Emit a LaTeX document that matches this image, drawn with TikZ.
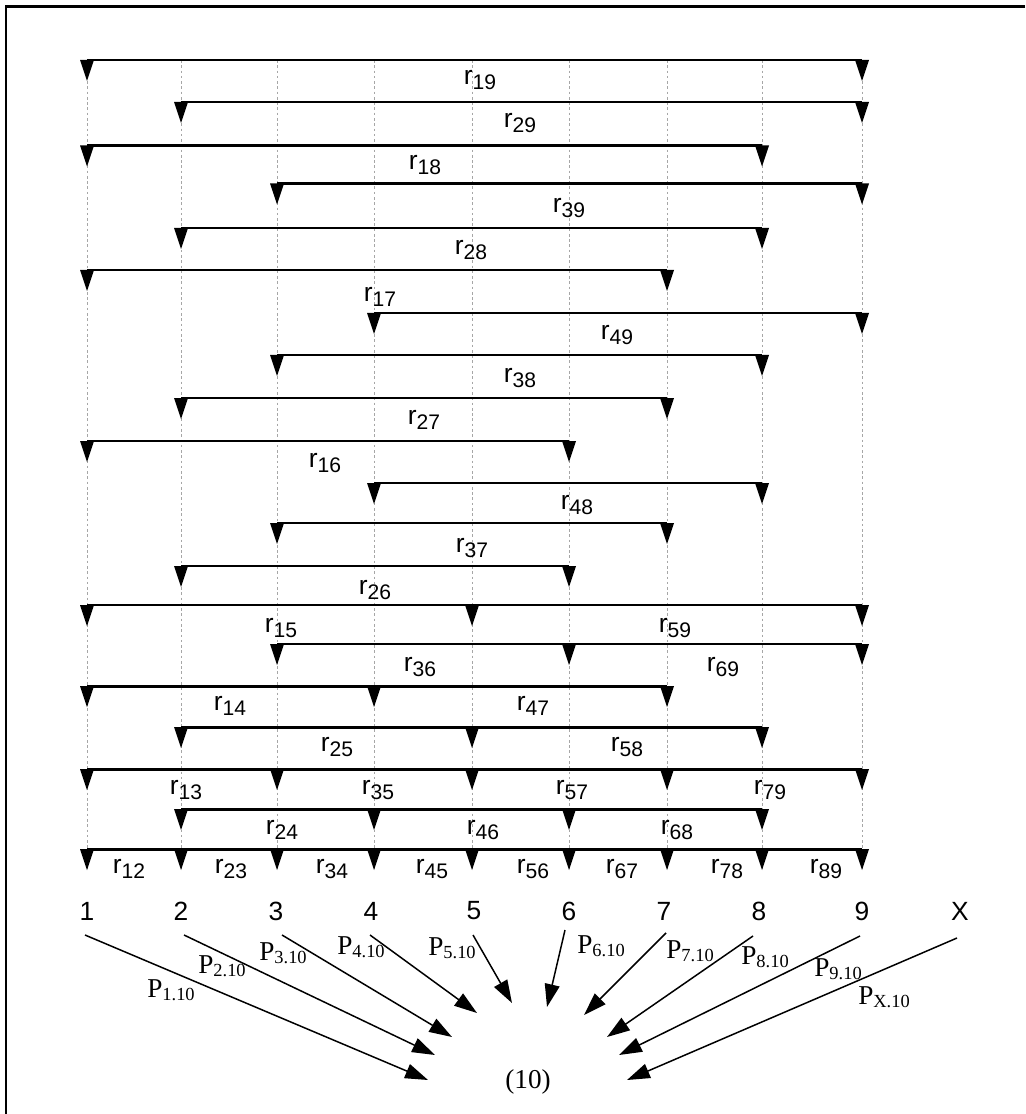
\documentclass[tikz,border=0pt]{standalone}
\usepackage{fontspec}
\setmainfont{Liberation Serif}
\setsansfont{Liberation Sans}
\usetikzlibrary{arrows.meta}

\newcommand{\rsub}[1]{r\raisebox{-2.4pt}{\fontsize{12}{13}\selectfont #1}}
\newcommand{\psub}[1]{P\raisebox{-2pt}{\fontsize{10.5}{11}\selectfont #1}}

\begin{document}
\begin{tikzpicture}[x=0.02cm, y=-0.02cm,
    seg/.style = {line width=1.7pt},
    guide/.style = {gray!70, line width=0.5pt, dash pattern=on 1.5pt off 1.5pt},
    lab/.style = {inner sep=0pt, font=\sffamily\fontsize{15}{17}\selectfont},
    num/.style = {inner sep=0pt, font=\sffamily\fontsize{15}{17}\selectfont},
    plab/.style = {inner sep=0pt, font=\fontsize{15.5}{17}\selectfont},
    arr/.style = {line width=0.85pt, -{Triangle[length=13pt, width=8.5pt]}},
    drop/.pic = {\fill (-7,0) -- (7,0) -- (0,21) -- cycle;}]
    \useasboundingbox (0,0) rectangle (1025,1114);
    \draw[line width=1.7pt] (1025,7) -- (6,7) -- (6,1114);

    % Colonne dei nodi
    \coordinate (c1) at (87,60);
    \coordinate (c2) at (181,60);
    \coordinate (c3) at (277,60);
    \coordinate (c4) at (374,60);
    \coordinate (c5) at (472,60);
    \coordinate (c6) at (569,60);
    \coordinate (c7) at (667,60);
    \coordinate (c8) at (762,60);
    \coordinate (c9) at (862,60);
    \coordinate (bot) at (0,870);

    \draw[guide] (c1) -- (c1 |- bot);
    \draw[guide] (c2) -- (c2 |- bot);
    \draw[guide] (c3) -- (c3 |- bot);
    \draw[guide] (c4) -- (c4 |- bot);
    \draw[guide] (c5) -- (c5 |- bot);
    \draw[guide] (c6) -- (c6 |- bot);
    \draw[guide] (c7) -- (c7 |- bot);
    \draw[guide] (c8) -- (c8 |- bot);
    \draw[guide] (c9) -- (c9 |- bot);

    % Righe delle distanze
    \coordinate (y19) at (0,60);
    \coordinate (y29) at (0,102);
    \coordinate (y18) at (0,145.5);
    \coordinate (y39) at (0,183.5);
    \coordinate (y28) at (0,228);
    \coordinate (y17) at (0,270);
    \coordinate (y49) at (0,313);
    \coordinate (y38) at (0,355);
    \coordinate (y27) at (0,398);
    \coordinate (y16) at (0,441);
    \coordinate (y48) at (0,483);
    \coordinate (y37) at (0,523);
    \coordinate (y26) at (0,566);
    \coordinate (y15) at (0,605);
    \coordinate (y36) at (0,644);
    \coordinate (y14) at (0,686);
    \coordinate (y25) at (0,727);
    \coordinate (y13) at (0,769);
    \coordinate (y24) at (0,809);
    \coordinate (y12) at (0,849);

    \draw[seg] (c1 |- y19) pic{drop} -- (c9 |- y19) pic{drop};
    \draw[seg] (c2 |- y29) pic{drop} -- (c9 |- y29) pic{drop};
    \draw[seg] (c1 |- y18) pic{drop} -- (c8 |- y18) pic{drop};
    \draw[seg] (c3 |- y39) pic{drop} -- (c9 |- y39) pic{drop};
    \draw[seg] (c2 |- y28) pic{drop} -- (c8 |- y28) pic{drop};
    \draw[seg] (c1 |- y17) pic{drop} -- (c7 |- y17) pic{drop};
    \draw[seg] (c4 |- y49) pic{drop} -- (c9 |- y49) pic{drop};
    \draw[seg] (c3 |- y38) pic{drop} -- (c8 |- y38) pic{drop};
    \draw[seg] (c2 |- y27) pic{drop} -- (c7 |- y27) pic{drop};
    \draw[seg] (c1 |- y16) pic{drop} -- (c6 |- y16) pic{drop};
    \draw[seg] (c4 |- y48) pic{drop} -- (c8 |- y48) pic{drop};
    \draw[seg] (c3 |- y37) pic{drop} -- (c7 |- y37) pic{drop};
    \draw[seg] (c2 |- y26) pic{drop} -- (c6 |- y26) pic{drop};
    \draw[seg] (c1 |- y15) pic{drop} -- (c5 |- y15) pic{drop} -- (c9 |- y15) pic{drop};
    \draw[seg] (c3 |- y36) pic{drop} -- (c6 |- y36) pic{drop} -- (c9 |- y36) pic{drop};
    \draw[seg] (c1 |- y14) pic{drop} -- (c4 |- y14) pic{drop} -- (c7 |- y14) pic{drop};
    \draw[seg] (c2 |- y25) pic{drop} -- (c5 |- y25) pic{drop} -- (c8 |- y25) pic{drop};
    \draw[seg] (c1 |- y13) pic{drop} -- (c3 |- y13) pic{drop} -- (c5 |- y13) pic{drop}
        -- (c7 |- y13) pic{drop} -- (c9 |- y13) pic{drop};
    \draw[seg] (c2 |- y24) pic{drop} -- (c4 |- y24) pic{drop} -- (c6 |- y24) pic{drop}
        -- (c8 |- y24) pic{drop};
    \draw[seg] (c1 |- y12) pic{drop} -- (c2 |- y12) pic{drop} -- (c3 |- y12) pic{drop}
        -- (c4 |- y12) pic{drop} -- (c5 |- y12) pic{drop} -- (c6 |- y12) pic{drop}
        -- (c7 |- y12) pic{drop} -- (c8 |- y12) pic{drop} -- (c9 |- y12) pic{drop};

    \node[lab] (r19) at (480,80) {\rsub{19}};
    \node[lab] (r29) at (520,123) {\rsub{29}};
    \node[lab] (r18) at (425,165) {\rsub{18}};
    \node[lab] (r39) at (569,208) {\rsub{39}};
    \node[lab] (r28) at (471,250) {\rsub{28}};
    \node[lab] (r17) at (380,297) {\rsub{17}};
    \node[lab] (r49) at (617,335) {\rsub{49}};
    \node[lab] (r38) at (520,378) {\rsub{38}};
    \node[lab] (r27) at (424,420) {\rsub{27}};
    \node[lab] (r16) at (325,463) {\rsub{16}};
    \node[lab] (r48) at (577,505) {\rsub{48}};
    \node[lab] (r37) at (472,548) {\rsub{37}};
    \node[lab] (r26) at (375,590) {\rsub{26}};
    \node[lab] (r15) at (281,628) {\rsub{15}};
    \node[lab] (r59) at (675,628) {\rsub{59}};
    \node[lab] (r36) at (420,667) {\rsub{36}};
    \node[lab] (r69) at (723,667) {\rsub{69}};
    \node[lab] (r14) at (230,706) {\rsub{14}};
    \node[lab] (r47) at (533,706) {\rsub{47}};
    \node[lab] (r25) at (337,747) {\rsub{25}};
    \node[lab] (r58) at (627,747) {\rsub{58}};
    \node[lab] (r13) at (186,790) {\rsub{13}};
    \node[lab] (r35) at (378,790) {\rsub{35}};
    \node[lab] (r57) at (572,790) {\rsub{57}};
    \node[lab] (r79) at (770,790) {\rsub{79}};
    \node[lab] (r24) at (282,830) {\rsub{24}};
    \node[lab] (r46) at (483,830) {\rsub{46}};
    \node[lab] (r68) at (677,830) {\rsub{68}};
    \node[lab] (r12) at (129,869) {\rsub{12}};
    \node[lab] (r23) at (231,869) {\rsub{23}};
    \node[lab] (r34) at (332,869) {\rsub{34}};
    \node[lab] (r45) at (432,869) {\rsub{45}};
    \node[lab] (r56) at (533,869) {\rsub{56}};
    \node[lab] (r67) at (622,869) {\rsub{67}};
    \node[lab] (r78) at (727,869) {\rsub{78}};
    \node[lab] (r89) at (826,869) {\rsub{89}};

    % Nodi e archi verso (10)
    \node[num] (n1) at (87,911) {1};
    \node[num] (n2) at (181,911) {2};
    \node[num] (n3) at (276,911) {3};
    \node[num] (n4) at (371,911) {4};
    \node[num] (n5) at (474,911) {5};
    \node[num] (n6) at (569,911) {6};
    \node[num] (n7) at (664,911) {7};
    \node[num] (n8) at (759,911) {8};
    \node[num] (n9) at (862,911) {9};
    \node[num] (nx) at (960,911) {X};
    \node[plab] (t) at (528,1082) {(10)};

    \coordinate (s1) at (85,935);   \coordinate (e1) at (428,1080);
    \coordinate (s2) at (184,935);  \coordinate (e2) at (435,1055);
    \coordinate (s3) at (282,935);  \coordinate (e3) at (452,1037);
    \coordinate (s4) at (370,935);  \coordinate (e4) at (477,1013);
    \coordinate (s5) at (473,935);  \coordinate (e5) at (512,1003);
    \coordinate (s6) at (565,930);  \coordinate (e6) at (547,1007);
    \coordinate (s7) at (666,933);  \coordinate (e7) at (584,1015);
    \coordinate (s8) at (753,936);  \coordinate (e8) at (607,1037);
    \coordinate (s9) at (860,936);  \coordinate (e9) at (619,1055);
    \coordinate (sx) at (957,938);  \coordinate (ex) at (627,1080);

    \draw[arr] (s1) -- (e1);
    \draw[arr] (s2) -- (e2);
    \draw[arr] (s3) -- (e3);
    \draw[arr] (s4) -- (e4);
    \draw[arr] (s5) -- (e5);
    \draw[arr] (s6) -- (e6);
    \draw[arr] (s7) -- (e7);
    \draw[arr] (s8) -- (e8);
    \draw[arr] (s9) -- (e9);
    \draw[arr] (sx) -- (ex);

    \node[plab] (p1) at (171,990) {\psub{1.10}};
    \node[plab] (p2) at (222,966) {\psub{2.10}};
    \node[plab] (p3) at (283,953) {\psub{3.10}};
    \node[plab] (p4) at (361,947) {\psub{4.10}};
    \node[plab] (p5) at (452,948) {\psub{5.10}};
    \node[plab] (p6) at (601,946) {\psub{6.10}};
    \node[plab] (p7) at (690,951) {\psub{7.10}};
    \node[plab] (p8) at (765,957) {\psub{8.10}};
    \node[plab] (p9) at (838,969) {\psub{9.10}};
    \node[plab] (px) at (884,997) {\psub{X.10}};

\end{tikzpicture}
\end{document}
